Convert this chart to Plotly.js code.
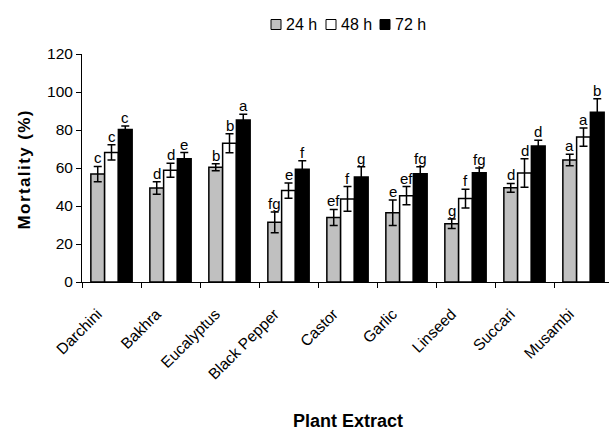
<!DOCTYPE html>
<html><head><meta charset="utf-8">
<script src="https://cdn.plot.ly/plotly-3.0.1.min.js"></script>
<style>html,body{margin:0;padding:0;background:#fff}</style>
</head><body><div id="chart" style="width:609px;height:432px"></div>
<script>
var categories = ["Darchini","Bakhra","Eucalyptus","Black Pepper","Castor","Garlic","Linseed","Succari","Musambi"];
var seriesNames = ["24 h","48 h","72 h"];
var mort24 = [56.8, 49.5, 60.4, 31.4, 34.0, 36.5, 30.7, 49.6, 64.2];
var err24  = [4.0, 3.3, 1.8, 5.5, 4.2, 6.7, 2.5, 2.3, 3.0];
var mort48 = [68.2, 58.8, 73.0, 48.1, 43.7, 45.4, 43.9, 57.4, 76.3];
var err48  = [4.0, 3.7, 5.0, 4.0, 6.5, 4.8, 4.9, 7.5, 4.8];
var mort72 = [80.3, 64.9, 85.3, 59.3, 55.3, 57.0, 57.5, 71.6, 89.3];
var err72  = [1.8, 3.2, 3.0, 4.5, 5.4, 3.7, 2.5, 3.0, 7.2];
var let24 = ["c","d","b","fg","ef","e","g","d","a"];
var let48 = ["c","d","b","e","f","ef","f","d","a"];
var let72 = ["c","e","a","f","g","fg","fg","d","b"];
var yTicks = [0,20,40,60,80,100,120];

var FONT = "Liberation Sans, Arial, sans-serif";
var fills = ["#c0c0c0","#ffffff","#000000"];
var vals = [mort24, mort48, mort72];
var errs = [err24, err48, err72];
var lets = [let24, let48, let72];

var traces = vals.map(function(v,i){
  return {
    type:"bar", name:seriesNames[i], x:categories, y:v,
    marker:{color:fills[i], line:{color:"#000", width:1.5}},
    error_y:{type:"data", array:errs[i], visible:true, color:"#000", thickness:1.5, width:4}
  };
});

var L = 82, T = 54, B = 282, W = 609;
var plotW = W - L, plotH = B - T;
function px2x(p){ return (p - L)/plotW; }
function px2y(p){ return (B - p)/plotH; }
var catPx = 59;
var barPx = catPx*0.7/3;

var annotations = [];
for (var s=0;s<3;s++){
  for (var k=0;k<categories.length;k++){
    annotations.push({
      x:categories[k], y:vals[s][k]+errs[s][k], xref:"x", yref:"y",
      text:lets[s][k], showarrow:false, yanchor:"bottom",
      xshift:(s-1)*barPx, yshift:-2,
      font:{family:FONT, size:15, color:"#000"}
    });
  }
}
var hs = "\u200A";
annotations.push({
  text:"Mortality (%)".split("").join(hs), xref:"paper", yref:"paper",
  x:px2x(23.5), y:px2y(170), textangle:-90, showarrow:false,
  xanchor:"center", yanchor:"middle",
  font:{family:FONT, size:17, color:"#000", weight:"bold"}
});
annotations.push({
  text:"Plant Extract", xref:"paper", yref:"paper",
  x:px2x(348), y:px2y(421), showarrow:false,
  xanchor:"center", yanchor:"middle",
  font:{family:FONT, size:18, color:"#000", weight:"bold"}
});

// legend (custom, compact like the reference)
var shapes = [];
var legSymX = [271, 326, 380];
for (var i=0;i<3;i++){
  shapes.push({type:"rect", xref:"paper", yref:"paper",
    x0:px2x(legSymX[i]), x1:px2x(legSymX[i]+10), y0:px2y(29.5), y1:px2y(19.5),
    fillcolor:fills[i], line:{color:"#000", width:1}});
  annotations.push({text:seriesNames[i], xref:"paper", yref:"paper",
    x:px2x(legSymX[i]+12.5), y:px2y(24.5), xanchor:"left", yanchor:"middle", showarrow:false,
    font:{family:FONT, size:16, color:"#000"}});
}

var layout = {
  width:609, height:432,
  margin:{l:L, r:0, t:T, b:432-B, pad:0},
  paper_bgcolor:"#fff", plot_bgcolor:"#fff",
  barmode:"group", bargap:0.3, bargroupgap:0,
  font:{family:FONT, size:15, color:"#000"},
  showlegend:false,
  xaxis:{type:"category", range:[-0.5, -0.5 + plotW/catPx], showline:true, linecolor:"#000", linewidth:1,
         ticks:"outside", tickson:"boundaries", ticklen:5, tickcolor:"#000", tickwidth:1,
         tickangle:-45, showgrid:false, zeroline:false, ticklabelstandoff:16, ticklabelshift:-14,
         tickfont:{family:FONT, size:15.5, color:"#000"}},
  yaxis:{range:[0,120], tickvals:yTicks, showline:true, linecolor:"#000", linewidth:1,
         ticks:"outside", ticklen:5, tickcolor:"#000", tickwidth:1, showgrid:false, zeroline:false,
         tickfont:{family:FONT, size:15.5, color:"#000"}},
  shapes:shapes,
  annotations:annotations
};
Plotly.newPlot("chart", traces, layout, {displayModeBar:false, staticPlot:true});
</script></body></html>
